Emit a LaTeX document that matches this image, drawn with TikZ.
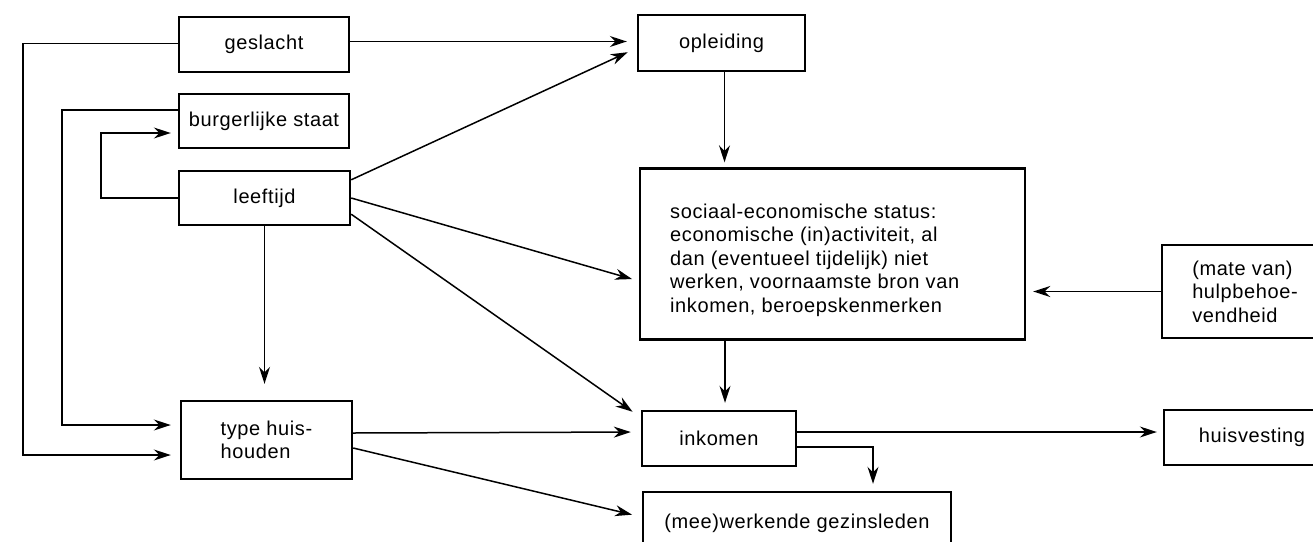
\documentclass[tikz,border=0pt]{standalone}
\usepackage{fontspec}
\setmainfont{Liberation Sans}[LetterSpace=3]
\usetikzlibrary{arrows.meta,calc}
\tikzset{
  box/.style={draw, line width=2.4pt, inner sep=0pt, font=\fontsize{20}{23.5}\selectfont, align=left},
  txt/.style={inner sep=0pt, font=\fontsize{20}{23.5}\selectfont, align=left},
  arr/.style={line width=1.5pt, -{Stealth[length=17pt,width=11pt,inset=5.5pt]}}
}
\begin{document}
\begin{tikzpicture}[x=1pt,y=-1pt]
\useasboundingbox (0,0) rectangle (1313,541);
\clip (0,0) rectangle (1313,541);
% left column
\node[box, minimum width=170, minimum height=55] (g) at (264,44.5) {geslacht};
\node[box, minimum width=170, minimum height=54] (b) at (264,121) {burgerlijke staat};
\node[box, minimum width=171, minimum height=54] (l) at (264.5,198) {leeftijd};
\node[box, minimum width=171, minimum height=78] (t) at (266.5,440) {type huis-\\houden};
% middle column
\node[box, minimum width=167, minimum height=56] (o) at (721.5,43) {opleiding};
\node[box, minimum width=385, minimum height=171] (s) at (832.5,254) {};
\node[txt, anchor=west] (st) at (670,260)
  {sociaal-economische status:\\economische (in)activiteit, al\\dan (eventueel tijdelijk) niet\\werken, voornaamste bron van\\inkomen, beroepskenmerken};
\node[box, minimum width=154, minimum height=55] (i) at (719,438.5) {inkomen};
\node[box, minimum width=308, minimum height=62] (m) at (797,523) {(mee)werkende gezinsleden};
% right column
\node[box, minimum width=166, minimum height=93] (h) at (1245,291.5) {(mate van)\\hulpbehoe-\\vendheid};
\node[box, minimum width=176, minimum height=55] (v) at (1252,437.5) {huisvesting};

% connectors
\draw[arr, shorten >=10pt] ([yshift=3pt]g.east) -- ([yshift=3pt]g.east -| o.west);
\draw[arr, shorten >=10pt] ([yshift=-10pt]l.north east) -- ([yshift=-5pt]o.west);
\draw[arr, shorten >=7pt] (l.east) -- ([yshift=-27pt]s.west);
\draw[arr, shorten >=10pt] ([yshift=12pt]l.south east) -- ([yshift=21pt]i.west);
\draw[arr, shorten >=16pt] (l.south) -- (l.south |- t.north);
\draw[arr, shorten >=10pt] ([yshift=7pt]t.east) -- ([yshift=6.5pt]i.west);
\draw[arr, shorten >=10pt] ([yshift=-8pt]t.east) -- ([yshift=6pt]m.west);
\draw[arr, shorten >=5pt] ([xshift=3pt]o.south) -- ([xshift=3pt]o.south |- s.north);
\draw[arr, shorten >=7pt] ([xshift=6pt]i.north |- s.south) -- ([xshift=6pt]i.north);
\draw[arr, shorten >=6pt] ([yshift=6.5pt]i.east) -- ([yshift=6.5pt]i.east -| v.west);
\draw[arr, shorten >=7pt] ([yshift=-8.5pt]i.east) -| ([xshift=76pt]m.north);
\draw[arr, shorten >=7pt] (h.west) -- (h.west -| s.east);
\draw[arr, shorten >=9pt] ([yshift=1pt]g.west) -- ++(-155,0) |- ([yshift=-15pt]t.west);
\draw[arr, shorten >=9pt] ([yshift=11pt]b.west) -- ++(-116,0) |- ([yshift=15pt]t.west);
\draw[arr, shorten >=7pt] (l.west) -- ++(-77,0) |- ([yshift=-12pt]b.west);
\end{tikzpicture}
\end{document}
